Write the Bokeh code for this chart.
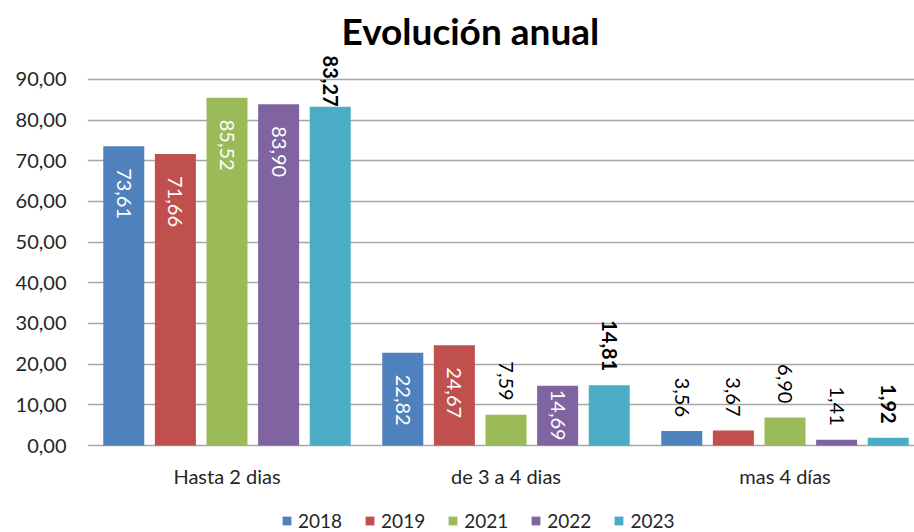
import math
from bokeh.plotting import figure
from bokeh.models import (Range1d, FixedTicker, Legend, LegendItem, ColumnDataSource)
from bokeh.core.properties import value
from bokeh.embed import file_html
from bokeh.resources import INLINE

# ---------------- data ----------------
categories = ["Hasta 2 dias", "de 3 a 4 dias", "mas 4 días"]
years = ["2018", "2019", "2021", "2022", "2023"]
v2018 = [73.61, 22.82, 3.56]
v2019 = [71.66, 24.67, 3.67]
v2021 = [85.52, 7.59, 6.90]
v2022 = [83.90, 14.69, 1.41]
v2023 = [83.27, 14.81, 1.92]
series = [v2018, v2019, v2021, v2022, v2023]
colors = ["#4f81bd", "#c0504d", "#9bbb59", "#8064a2", "#4bacc6"]
y_ticks = [0, 10, 20, 30, 40, 50, 60, 70, 80, 90]
y_tick_labels = ["0,00", "10,00", "20,00", "30,00", "40,00",
                 "50,00", "60,00", "70,00", "80,00", "90,00"]

# ---------------- layout ----------------
W, H = 914, 532
BL, BR, BT, BB = 87, 0, 55, 0
PPU = 4.067                    # pixels per data unit (vertical)
BASE_PX = 87                   # pixels below the zero line inside the frame
frame_h = H - BT - BB
YMIN = -BASE_PX / PPU
YMAX = YMIN + frame_h / PPU
frame_w = W - BL - BR
CAT_PX = 279                   # pixels per category slot
XMAX = frame_w / CAT_PX

FONT = "Lato"

p = figure(x_range=Range1d(0, XMAX), y_range=Range1d(YMIN, YMAX),
           width=W, height=H, output_backend="svg", toolbar_location=None,
           x_axis_location=None,
           min_border_left=BL, min_border_right=BR,
           min_border_top=BT, min_border_bottom=BB)

p.title.text = "Evolución anual"
p.title.align = "left"
p.title.offset = 254
p.title.text_font = FONT
p.title.text_font_size = "37px"
p.title.text_font_style = "bold"
p.title.text_color = "#000000"
p.title.standoff = 5

p.outline_line_color = None
p.background_fill_color = "white"
p.border_fill_color = "white"

# y axis
p.yaxis.ticker = FixedTicker(ticks=y_ticks)
p.yaxis.major_label_overrides = {t: l for t, l in zip(y_ticks, y_tick_labels)}
p.yaxis.axis_line_color = None
p.yaxis.major_tick_line_color = None
p.yaxis.minor_tick_line_color = None
p.yaxis.major_tick_out = 0
p.yaxis.major_tick_in = 0
p.yaxis.major_label_standoff = 21
p.yaxis.major_label_text_font = FONT
p.yaxis.major_label_text_font_size = "20px"
p.yaxis.major_label_text_color = "#262626"

p.xgrid.grid_line_color = None
p.ygrid.grid_line_color = "#a6a6a6"
p.ygrid.grid_line_width = 1.5

# category labels (drawn under the zero line)
cat_pos = [i + 0.5 for i in range(len(categories))]
p.text(x=cat_pos, y=[-30 / PPU] * len(categories), text=categories,
       text_align="center", text_baseline="middle",
       text_font=value(FONT), text_font_size="20px", text_color="#262626")

# bars
STEP = 0.185
BW = 0.147
LBL_SIZE = "20px"
LBL_LEN_PX = 50
label_len_units = LBL_LEN_PX / PPU
out_off = 14 / PPU
TOP_LIMIT = 95.9               # plot-area top of the original chart

legend_items = []
for i, (yr, vals, col) in enumerate(zip(years, series, colors)):
    off = (i - 2) * STEP
    xs = [c + off for c in cat_pos]
    src = ColumnDataSource(dict(x=xs, val=vals))
    r = p.vbar(x="x", top="val", bottom=0, width=BW, source=src,
               fill_color=col, line_color=None)
    legend_items.append(LegendItem(label=yr, renderers=[r]))

    last = (i == len(years) - 1)
    ins = dict(x=[], y=[], t=[])
    outs = dict(x=[], y=[], t=[])
    for x, v in zip(xs, vals):
        txt = f"{v:.2f}".replace(".", ",")
        if (not last) and v > 10:
            bar_px = v * PPU
            off_px = max(4, min(22, bar_px - LBL_LEN_PX - 6))
            ins["x"].append(x); ins["y"].append(v - off_px / PPU); ins["t"].append(txt)
        else:
            outs["x"].append(x)
            outs["y"].append(min(v + out_off, TOP_LIMIT - label_len_units - 0.3))
            outs["t"].append(txt)
    if ins["x"]:
        p.text(x="x", y="y", text="t", source=ColumnDataSource(ins),
               angle=-math.pi / 2, text_align="left", text_baseline="middle",
               text_font=value(FONT), text_font_size=LBL_SIZE,
               text_color="white")
    if outs["x"]:
        p.text(x="x", y="y", text="t", source=ColumnDataSource(outs),
               angle=-math.pi / 2, text_align="right", text_baseline="middle",
               text_font=value(FONT), text_font_size=LBL_SIZE,
               text_font_style="bold" if last else "normal",
               text_color="#000000")

legend = Legend(items=legend_items, orientation="horizontal",
                location=(194, 0))
legend.glyph_width = 11
legend.glyph_height = 11
legend.label_standoff = 6
legend.spacing = 22
legend.padding = 0
legend.margin = 0
legend.border_line_color = None
legend.background_fill_alpha = 0
legend.label_text_font = FONT
legend.label_text_font_size = "19px"
legend.label_text_color = "#262626"
p.add_layout(legend, "center")

open("out.html", "w").write(file_html(p, INLINE))
